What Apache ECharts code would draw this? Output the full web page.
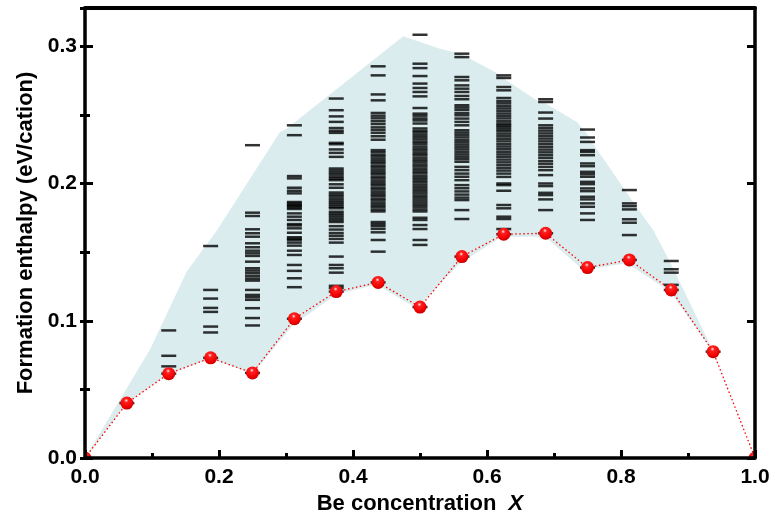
<!DOCTYPE html>
<html>
<head>
<meta charset="utf-8">
<script src="https://cdn.jsdelivr.net/npm/echarts@6/dist/echarts.min.js"></script>
<style>html,body{margin:0;padding:0;background:#fff}#c{width:776px;height:512px}</style>
</head>
<body>
<div id="c"></div>
<script>
// ---- data ----
var compositions = [0, 0.0625, 0.125, 0.1875, 0.25, 0.3125, 0.375, 0.4375, 0.5, 0.5625, 0.625, 0.6875, 0.75, 0.8125, 0.875, 0.9375, 1];
var groundStates = [0, 0.040, 0.0615, 0.073, 0.062, 0.1015, 0.1213, 0.128, 0.110, 0.1468, 0.1631, 0.1638, 0.1388, 0.1444, 0.1225, 0.0775, 0];

var structs_x0 = [];
var structs_x1 = [];
var structs_x2 = [0.093, 0.0745, 0.0668];
var structs_x3 = [0.1545, 0.1225, 0.1162, 0.1094, 0.1065, 0.0958, 0.0915];
var structs_x4 = [0.228, 0.1788, 0.1764, 0.1667, 0.1638, 0.1613, 0.1565, 0.1536, 0.1511, 0.1492, 0.1473, 0.1431, 0.1383, 0.1366, 0.1347, 0.1327, 0.1308, 0.1293, 0.1225, 0.1189, 0.1172, 0.1153, 0.1092, 0.102, 0.0966];
var structs_x5 = [0.2425, 0.2353, 0.2055, 0.2038, 0.197, 0.1948, 0.1929, 0.1866, 0.1855, 0.1845, 0.1836, 0.1826, 0.1815, 0.1783, 0.1759, 0.1735, 0.1705, 0.1695, 0.1674, 0.1642, 0.1609, 0.1598, 0.1589, 0.157, 0.1548, 0.1511, 0.148, 0.1407, 0.1364, 0.131, 0.1245];
var structs_x6 = [0.262, 0.2535, 0.249, 0.245, 0.2405, 0.2385, 0.237, 0.2297, 0.2287, 0.2249, 0.2224, 0.2195, 0.211, 0.2095, 0.208, 0.2066, 0.205, 0.2036, 0.2025, 0.1995, 0.197, 0.1935, 0.192, 0.1906, 0.189, 0.1874, 0.186, 0.1846, 0.1831, 0.182, 0.1795, 0.178, 0.1766, 0.175, 0.1734, 0.172, 0.169, 0.1665, 0.164, 0.162, 0.1597, 0.157, 0.1468, 0.1407, 0.1383, 0.1351, 0.1255, 0.1238];
var structs_x7 = [0.2855, 0.2789, 0.265, 0.2607, 0.2515, 0.2495, 0.2476, 0.2455, 0.2434, 0.241, 0.2391, 0.237, 0.2345, 0.232, 0.2244, 0.2229, 0.2211, 0.2197, 0.218, 0.2163, 0.2149, 0.2131, 0.2117, 0.21, 0.2083, 0.2069, 0.2051, 0.2037, 0.202, 0.2003, 0.1989, 0.1971, 0.1957, 0.194, 0.1923, 0.1909, 0.1891, 0.1877, 0.186, 0.1843, 0.1829, 0.1811, 0.1797, 0.172, 0.1705, 0.169, 0.167, 0.1645, 0.1589, 0.1504];
var structs_x8 = [0.3085, 0.2874, 0.2842, 0.2784, 0.2729, 0.2697, 0.2668, 0.2636, 0.2551, 0.251, 0.2495, 0.2475, 0.246, 0.2438, 0.2402, 0.2385, 0.2372, 0.2355, 0.2338, 0.2322, 0.2305, 0.229, 0.2271, 0.2255, 0.224, 0.2222, 0.2208, 0.219, 0.2174, 0.2158, 0.214, 0.2125, 0.2108, 0.2091, 0.2076, 0.2058, 0.2042, 0.2026, 0.201, 0.1993, 0.1977, 0.196, 0.1944, 0.1928, 0.1911, 0.1895, 0.1878, 0.1862, 0.1846, 0.183, 0.1812, 0.1797, 0.1751, 0.1735, 0.1698, 0.1669, 0.1589, 0.1553];
var structs_x9 = [0.2947, 0.2922, 0.2777, 0.2753, 0.2716, 0.2692, 0.2668, 0.2639, 0.2615, 0.2571, 0.2555, 0.2538, 0.2515, 0.2498, 0.2474, 0.245, 0.2425, 0.2389, 0.2372, 0.2355, 0.2337, 0.2318, 0.2301, 0.2284, 0.2266, 0.2249, 0.2231, 0.2213, 0.2196, 0.2178, 0.2159, 0.2122, 0.2098, 0.2073, 0.205, 0.2025, 0.1989, 0.1966, 0.1943, 0.192, 0.1898, 0.188, 0.1807, 0.1742];
var structs_x10 = [0.2789, 0.277, 0.2704, 0.268, 0.2624, 0.2602, 0.2585, 0.2566, 0.2548, 0.253, 0.2511, 0.2493, 0.2475, 0.2455, 0.2438, 0.2425, 0.2413, 0.2397, 0.2382, 0.2364, 0.2345, 0.2327, 0.2308, 0.2288, 0.227, 0.2251, 0.2232, 0.2213, 0.2195, 0.2175, 0.2155, 0.2135, 0.2115, 0.2095, 0.2073, 0.2049, 0.2001, 0.1989, 0.1948, 0.1844, 0.182, 0.1759, 0.1742, 0.1669];
var structs_x11 = [0.2615, 0.2595, 0.2518, 0.2474, 0.2425, 0.2405, 0.2386, 0.2366, 0.2347, 0.2328, 0.2308, 0.2288, 0.2268, 0.2248, 0.2228, 0.2208, 0.2188, 0.2165, 0.2145, 0.2122, 0.2098, 0.2062, 0.2001, 0.1982, 0.1933, 0.1916, 0.1885, 0.1807];
var structs_x12 = [0.2394, 0.2336, 0.2304, 0.2244, 0.2231, 0.2207, 0.2147, 0.2127, 0.2086, 0.2069, 0.205, 0.2013, 0.1996, 0.1965, 0.1945, 0.1904, 0.1885, 0.1856, 0.1831, 0.1783, 0.1735];
var structs_x13 = [0.1953, 0.1856, 0.1836, 0.1812, 0.174, 0.1715, 0.1625];
var structs_x14 = [0.1436, 0.1376, 0.1351, 0.1262];
var structs_x15 = [];
var structs_x16 = [];

// shaded region boundaries (x, energy)
var regionUpper = [[0, 0], [0.097, 0.079], [0.152, 0.136], [0.197, 0.166], [0.291, 0.2377], [0.301, 0.240], [0.475, 0.3075], [0.53, 0.2983], [0.56, 0.2947], [0.612, 0.2813], [0.629, 0.2753], [0.674, 0.2607], [0.687, 0.2585], [0.734, 0.2449], [0.749, 0.2365], [0.758, 0.2292], [0.823, 0.1831], [0.848, 0.1662], [0.873, 0.1431], [0.933, 0.0825], [1, 0]];
var regionLower = [[0, 0], [0.0625, 0.040], [0.125, 0.0612], [0.1875, 0.0725], [0.25, 0.0615], [0.3109, 0.0971], [0.3757, 0.1193], [0.4354, 0.1262], [0.4951, 0.1092], [0.5597, 0.142], [0.622, 0.1613], [0.6866, 0.1613], [0.7437, 0.1371], [0.8085, 0.142], [0.8731, 0.1213], [0.9375, 0.0775], [1, 0]];

var xTicks = [0, 0.2, 0.4, 0.6, 0.8, 1.0];
var yTicks = [0, 0.1, 0.2, 0.3];

// ---- build ----
var structCols = [structs_x0, structs_x1, structs_x2, structs_x3, structs_x4, structs_x5, structs_x6, structs_x7, structs_x8, structs_x9, structs_x10, structs_x11, structs_x12, structs_x13, structs_x14, structs_x15, structs_x16];
var dashData = [];
structCols.forEach(function (col, i) {
  col.forEach(function (e) { dashData.push([compositions[i], e]); });
  if (i > 0 && i < compositions.length - 1) dashData.push([compositions[i], groundStates[i]]);
});
var gsData = compositions.map(function (x, i) { return [x, groundStates[i]]; });

var FONT = 'Liberation Sans';
var YMAX = 0.328;
var lbl = { fontFamily: FONT, fontWeight: 'bold', fontSize: 21, color: '#000' };
var nameLbl = { fontFamily: FONT, fontWeight: 'bold', fontSize: 22, color: '#000' };

var chart = echarts.init(document.getElementById('c'));
chart.setOption({
  backgroundColor: '#fff',
  animation: false,
  grid: { left: 85, right: 21, top: 8, bottom: 54, containLabel: false, outerBoundsMode: 'none' },
  xAxis: [
    {
      type: 'value', position: 'bottom', min: 0, max: 1, interval: 0.2, z: 10,
      axisLine: { onZero: false, lineStyle: { color: '#000', width: 3.5 } },
      axisTick: { inside: true, length: 8, lineStyle: { color: '#000', width: 3 } },
      minorTick: { show: true, splitNumber: 2, length: 5, lineStyle: { color: '#000', width: 3 } },
      splitLine: { show: false },
      axisLabel: Object.assign({ margin: 9, formatter: function (v) { return xTicks.indexOf(Math.round(v * 10) / 10) >= 0 ? v.toFixed(1) : ''; } }, lbl),
      name: '{n|Be concentration  }{i|X}', nameLocation: 'middle', nameGap: 26,
      nameTextStyle: { rich: { n: nameLbl, i: Object.assign({}, nameLbl, { fontStyle: 'italic' }) } }
    },
    {
      type: 'value', position: 'top', min: 0, max: 1, interval: 0.1, z: 10,
      axisLine: { onZero: false, lineStyle: { color: '#000', width: 4 } },
      axisTick: { inside: true, length: 2, lineStyle: { color: '#000', width: 2 } },
      splitLine: { show: false }, axisLabel: { show: false }
    }
  ],
  yAxis: [
    {
      type: 'value', position: 'left', min: 0, max: YMAX, interval: 0.1, z: 10,
      axisLine: { onZero: false, lineStyle: { color: '#000', width: 3.5 } },
      axisTick: { inside: true, length: 8, lineStyle: { color: '#000', width: 3 } },
      splitLine: { show: false },
      axisLabel: Object.assign({ margin: 8, showMaxLabel: false, formatter: function (v) { return yTicks.indexOf(Math.round(v * 10) / 10) >= 0 && Math.abs(v * 10 - Math.round(v * 10)) < 1e-6 ? v.toFixed(1) : ''; } }, lbl),
      name: 'Formation enthalpy (eV/cation)', nameLocation: 'middle', nameGap: 44,
      nameTextStyle: nameLbl
    },
    {
      type: 'value', position: 'left', min: 0, max: YMAX, interval: 0.05, z: 10,
      axisLine: { show: false },
      axisTick: { inside: true, length: 5, lineStyle: { color: '#000', width: 3 } },
      splitLine: { show: false }, axisLabel: { show: false }
    },
    {
      type: 'value', position: 'right', min: 0, max: YMAX, interval: 0.1, z: 10,
      axisLine: { onZero: false, lineStyle: { color: '#000', width: 3.5 } },
      axisTick: { inside: true, length: 8, lineStyle: { color: '#000', width: 3 } },
      splitLine: { show: false }, axisLabel: { show: false }
    },
    {
      type: 'value', position: 'right', min: 0, max: YMAX, interval: 0.05, z: 10,
      axisLine: { show: false },
      axisTick: { inside: true, length: 5, lineStyle: { color: '#000', width: 3 } },
      splitLine: { show: false }, axisLabel: { show: false }
    }
  ],
  series: [
    {
      type: 'custom', xAxisIndex: 0, yAxisIndex: 0, z: 1, silent: true,
      data: [[0, 0]],
      renderItem: function (params, api) {
        var pts = regionUpper.map(function (p) { return api.coord(p); });
        var low = regionLower.slice().reverse().map(function (p) { return api.coord(p); });
        return { type: 'polygon', shape: { points: pts.concat(low) }, style: { fill: '#daecee', stroke: null } };
      }
    },
    {
      type: 'scatter', xAxisIndex: 0, yAxisIndex: 0, z: 2, silent: true,
      symbol: 'rect', symbolSize: [15, 2.5],
      itemStyle: { color: '#000' },
      data: dashData
    },
    {
      type: 'line', xAxisIndex: 0, yAxisIndex: 0, z: 3, silent: true,
      symbol: 'none',
      lineStyle: { color: '#ff0000', width: 1.3, type: [1.5, 2.5] },
      data: gsData
    },
    {
      type: 'custom', xAxisIndex: 0, yAxisIndex: 0, z: 4, silent: true, clip: true,
      data: gsData,
      renderItem: function (params, api) {
        var c = api.coord([api.value(0), api.value(1)]);
        return {
          type: 'circle', shape: { cx: c[0], cy: c[1], r: 6.5 },
          style: { fill: { type: 'radial', x: 0.45, y: 0.3, r: 0.75,
            colorStops: [{ offset: 0, color: '#fff0f0' }, { offset: 0.2, color: '#ff2020' }, { offset: 0.7, color: '#f00000' }, { offset: 1, color: '#b00000' }] } }
        };
      }
    }
  ]
});
</script>
</body>
</html>
